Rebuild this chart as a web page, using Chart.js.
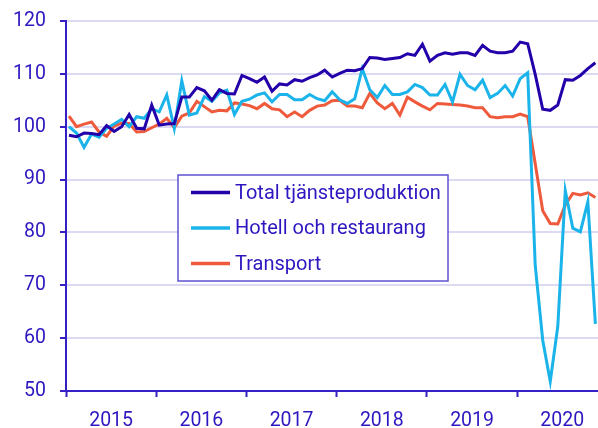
<!DOCTYPE html>
<html>
<head>
<meta charset="utf-8">
<script src="https://cdn.jsdelivr.net/npm/chart.js@4"></script>
<style>
  body { margin: 0; background: #fff; }
  canvas { display: block; }
</style>
</head>
<body>
<canvas id="chart" width="598" height="428"></canvas>
<script>
// Monthly index, Jan 2015 - Nov 2020
const years = ['2015', '2016', '2017', '2018', '2019', '2020'];
const seriesNames = ['Total tjänsteproduktion', 'Hotell och restaurang', 'Transport'];

const total = [
    98.4, 98.1, 98.8, 98.7, 98.5, 100.2, 99.1, 100.0, 102.3, 99.7, 99.6, 104.1,
    100.3, 100.5, 100.6, 105.6, 105.6, 107.4, 106.8, 105.0, 107.0, 106.3, 106.2, 109.7,
    109.1, 108.4, 109.4, 106.7, 108.1, 107.9, 108.9, 108.6, 109.3, 109.8, 110.7, 109.4,
    110.1, 110.7, 110.6, 111.0, 113.1, 113.0, 112.7, 112.9, 113.1, 113.8, 113.5, 115.6,
    112.4, 113.5, 114.0, 113.7, 114.0, 114.0, 113.5, 115.4, 114.3, 114.0, 114.0, 114.3,
    116.0, 115.7, 109.9, 103.3, 103.1, 104.1, 108.9, 108.8, 109.7, 111.0, 112.1
];
const hotell = [
    100.0, 98.8, 96.1, 98.6, 98.0, 99.7, 100.5, 101.4, 100.0, 101.9, 101.6, 103.4,
    102.8, 106.0, 99.7, 108.7, 102.2, 102.6, 105.7, 104.8, 106.4, 106.9, 102.3, 104.8,
    105.2, 106.0, 106.4, 104.7, 106.1, 106.1, 105.1, 105.1, 106.1, 105.3, 104.9, 106.6,
    105.1, 104.4, 105.3, 111.0, 107.0, 105.5, 107.8, 106.1, 106.1, 106.6, 108.0, 107.4,
    106.0, 106.0, 108.0, 104.7, 109.9, 107.8, 107.0, 108.8, 105.5, 106.3, 107.8, 105.8,
    109.1, 110.2, 73.8, 59.6, 51.8, 62.2, 87.9, 80.8, 80.1, 85.8, 62.7
];
const transport = [
    102.0, 100.0, 100.5, 100.9, 99.0, 98.2, 100.1, 100.7, 100.6, 99.0, 99.1, 99.8,
    100.5, 101.6, 99.8, 102.0, 102.6, 104.8, 103.8, 102.8, 103.1, 103.0, 104.5, 104.3,
    104.0, 103.4, 104.4, 103.4, 103.2, 101.9, 102.8, 101.9, 103.1, 103.9, 104.1, 104.9,
    105.0, 103.9, 103.9, 103.6, 106.3, 104.5, 103.4, 104.4, 102.2, 105.6, 104.7, 103.9,
    103.2, 104.4, 104.3, 104.2, 104.1, 103.9, 103.6, 103.6, 101.9, 101.7, 101.9, 101.9,
    102.4, 101.9, 93.0, 84.1, 81.7, 81.6, 85.2, 87.4, 87.1, 87.5, 86.6
];
const yTicks = [50, 60, 70, 80, 90, 100, 110, 120];

const colors = ['#2300aa', '#1ab3ea', '#ef5a3c'];
const axisColor = '#3420c4';
const textColor = '#2c17c0';
const gridColor = '#dcdaf2';
const font = { family: 'Roboto', size: 19.5 };

function toPoints(values) {
    return values.map((v, i) => ({ x: i + 0.4, y: v }));
}

// legend drawn inside the plot, as a framed box
const boxLegend = {
    id: 'boxLegend',
    afterDraw(chart) {
        const ctx = chart.ctx;
        ctx.save();
        ctx.fillStyle = '#fff';
        ctx.fillRect(178, 175, 270, 106);
        ctx.strokeStyle = '#5f52d2';
        ctx.lineWidth = 1.5;
        ctx.strokeRect(178, 175, 270, 106);
        const rows = [192.5, 228, 263.5];
        chart.data.datasets.forEach((ds, i) => {
            ctx.strokeStyle = ds.borderColor;
            ctx.lineWidth = 3.5;
            ctx.beginPath();
            ctx.moveTo(191, rows[i]);
            ctx.lineTo(230, rows[i]);
            ctx.stroke();
            ctx.fillStyle = textColor;
            ctx.font = '20px ' + font.family;
            ctx.textBaseline = 'middle';
            ctx.fillText(ds.label, 235, rows[i] + 1);
        });
        ctx.restore();
    }
};

new Chart(document.getElementById('chart'), {
    type: 'line',
    data: {
        datasets: [
            { label: seriesNames[0], data: toPoints(total), borderColor: colors[0] },
            { label: seriesNames[1], data: toPoints(hotell), borderColor: colors[1] },
            { label: seriesNames[2], data: toPoints(transport), borderColor: colors[2] }
        ]
    },
    options: {
        responsive: false,
        animation: false,
        layout: { padding: { top: 21, right: 0, left: 0, bottom: 0 } },
        elements: {
            line: { borderWidth: 3, tension: 0 },
            point: { radius: 0 }
        },
        plugins: {
            legend: { display: false },
            tooltip: { enabled: false }
        },
        scales: {
            x: {
                type: 'linear',
                min: 0,
                max: 70.75,
                afterBuildTicks: scale => {
                    const ticks = [];
                    for (let m = 0; m <= 66; m += 6) ticks.push({ value: m });
                    scale.ticks = ticks;
                },
                afterFit: scale => {
                    scale.height = 37;
                    scale.paddingLeft = 0;
                    scale.paddingRight = 0;
                },
                grid: {
                    drawOnChartArea: false,
                    tickLength: 6,
                    tickWidth: 2,
                    tickColor: ctx => (ctx.tick && ctx.tick.value % 12 === 0) ? axisColor : 'rgba(0,0,0,0)'
                },
                border: { color: axisColor, width: 2 },
                ticks: {
                    autoSkip: false,
                    maxRotation: 0,
                    padding: 12,
                    color: textColor,
                    font: font,
                    callback: v => (v % 12 === 6) ? years[(v - 6) / 12] : ''
                }
            },
            y: {
                min: 50,
                max: 120,
                afterBuildTicks: scale => {
                    scale.ticks = yTicks.map(v => ({ value: v }));
                },
                afterFit: scale => {
                    scale.width = 66;
                    scale.paddingTop = 0;
                    scale.paddingBottom = 0;
                },
                grid: {
                    color: gridColor,
                    lineWidth: 2,
                    tickLength: 6,
                    tickColor: axisColor
                },
                border: { color: axisColor, width: 2 },
                ticks: {
                    padding: 14,
                    color: textColor,
                    font: font
                }
            }
        }
    },
    plugins: [boxLegend]
});
</script>
</body>
</html>
